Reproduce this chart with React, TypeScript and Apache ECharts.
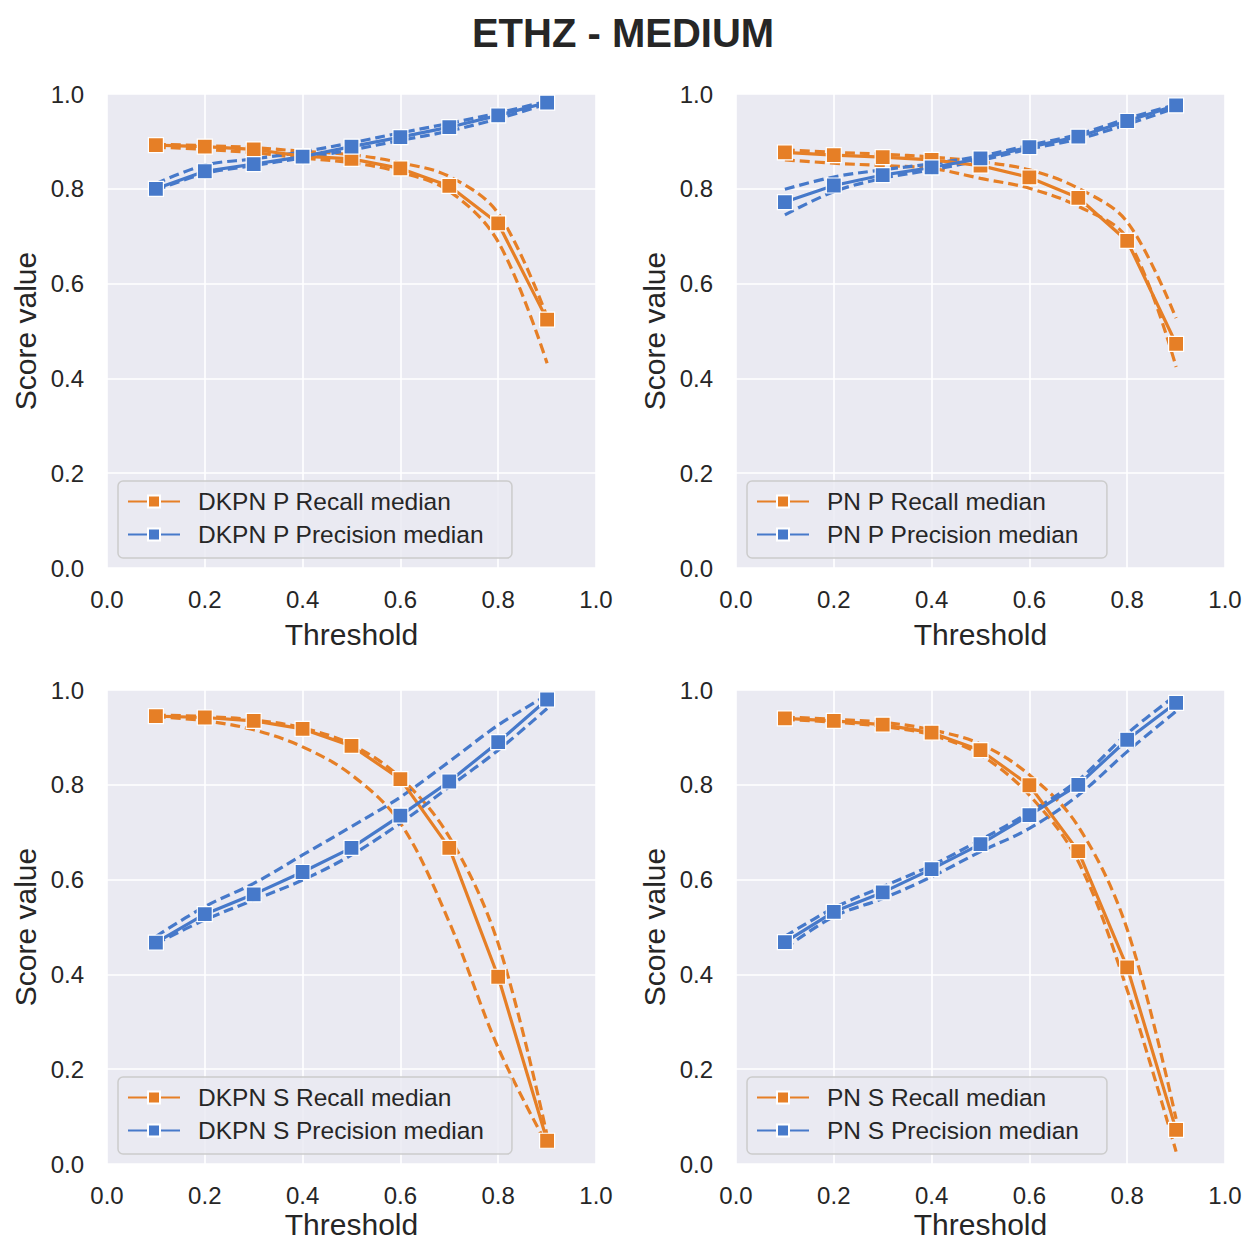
import React, { useEffect, useRef } from 'react';
import * as echarts from 'echarts';

const thresholds = [0.1, 0.2, 0.3, 0.4, 0.5, 0.6, 0.7, 0.8, 0.9];
const titleText = 'ETHZ - MEDIUM';
const panelNames = ['DKPN P', 'PN P', 'DKPN S', 'PN S'];

// DKPN P
const dkpnPRecallMedian = [0.892, 0.889, 0.883, 0.869, 0.863, 0.843, 0.806, 0.727, 0.524];
const dkpnPRecallUpper = [0.894, 0.891, 0.887, 0.879, 0.872, 0.855, 0.826, 0.748, 0.53];
const dkpnPRecallLower = [0.888, 0.883, 0.876, 0.865, 0.855, 0.835, 0.795, 0.688, 0.432];
const dkpnPPrecisionMedian = [0.8, 0.837, 0.852, 0.868, 0.889, 0.909, 0.93, 0.955, 0.982];
const dkpnPPrecisionUpper = [0.811, 0.85, 0.863, 0.878, 0.897, 0.918, 0.938, 0.96, 0.985];
const dkpnPPrecisionLower = [0.797, 0.832, 0.849, 0.865, 0.882, 0.902, 0.922, 0.948, 0.979];

// PN P
const pnPRecallMedian = [0.877, 0.871, 0.867, 0.861, 0.849, 0.824, 0.781, 0.69, 0.473];
const pnPRecallUpper = [0.882, 0.877, 0.873, 0.867, 0.857, 0.84, 0.801, 0.73, 0.527];
const pnPRecallLower = [0.861, 0.854, 0.849, 0.843, 0.822, 0.801, 0.763, 0.695, 0.424];
const pnPPrecisionMedian = [0.772, 0.807, 0.829, 0.845, 0.864, 0.888, 0.91, 0.943, 0.976];
const pnPPrecisionUpper = [0.799, 0.825, 0.84, 0.853, 0.869, 0.892, 0.915, 0.948, 0.978];
const pnPPrecisionLower = [0.745, 0.794, 0.822, 0.84, 0.86, 0.884, 0.905, 0.936, 0.971];

// DKPN S
const dkpnSRecallMedian = [0.945, 0.942, 0.935, 0.918, 0.882, 0.812, 0.667, 0.395, 0.049];
const dkpnSRecallUpper = [0.947, 0.944, 0.937, 0.92, 0.885, 0.815, 0.69, 0.465, 0.06];
const dkpnSRecallLower = [0.944, 0.935, 0.916, 0.88, 0.821, 0.719, 0.51, 0.245, 0.04];
const dkpnSPrecisionMedian = [0.467, 0.527, 0.569, 0.616, 0.667, 0.735, 0.807, 0.89, 0.98];
const dkpnSPrecisionUpper = [0.48, 0.543, 0.592, 0.652, 0.712, 0.774, 0.849, 0.926, 0.989];
const dkpnSPrecisionLower = [0.465, 0.515, 0.557, 0.599, 0.652, 0.719, 0.796, 0.873, 0.961];

// PN S
const pnSRecallMedian = [0.94, 0.935, 0.927, 0.91, 0.873, 0.799, 0.66, 0.415, 0.072];
const pnSRecallUpper = [0.943, 0.938, 0.932, 0.916, 0.886, 0.821, 0.712, 0.495, 0.095];
const pnSRecallLower = [0.938, 0.932, 0.923, 0.905, 0.863, 0.778, 0.638, 0.367, 0.026];
const pnSPrecisionMedian = [0.468, 0.532, 0.573, 0.622, 0.675, 0.736, 0.8, 0.895, 0.973];
const pnSPrecisionUpper = [0.48, 0.54, 0.585, 0.63, 0.684, 0.742, 0.81, 0.908, 0.989];
const pnSPrecisionLower = [0.455, 0.522, 0.56, 0.606, 0.659, 0.708, 0.778, 0.87, 0.955];

const panels = [
  { name: panelNames[0], rec: [dkpnPRecallMedian, dkpnPRecallUpper, dkpnPRecallLower], pre: [dkpnPPrecisionMedian, dkpnPPrecisionUpper, dkpnPPrecisionLower] },
  { name: panelNames[1], rec: [pnPRecallMedian, pnPRecallUpper, pnPRecallLower], pre: [pnPPrecisionMedian, pnPPrecisionUpper, pnPPrecisionLower] },
  { name: panelNames[2], rec: [dkpnSRecallMedian, dkpnSRecallUpper, dkpnSRecallLower], pre: [dkpnSPrecisionMedian, dkpnSPrecisionUpper, dkpnSPrecisionLower] },
  { name: panelNames[3], rec: [pnSRecallMedian, pnSRecallUpper, pnSRecallLower], pre: [pnSPrecisionMedian, pnSPrecisionUpper, pnSPrecisionLower] },
];

const ORANGE = '#e67f26';
const BLUE = '#4679ca';
const TEXT = '#262626';
const FONT = '"Liberation Sans", Arial, Helvetica, sans-serif';

const gridLefts = [107, 736];
const gridTops = [94, 690];
const nameGaps = [51, 45];
const GW = 489;
const GH = 474;

function pairs(vals: number[]) {
  return thresholds.map((t, i) => [t, vals[i]]);
}

export default function App() {
  const ref = useRef<HTMLDivElement>(null);
  useEffect(() => {
    if (!ref.current) return;
    const chart = echarts.init(ref.current, null, { renderer: 'svg' });
    const grids: any[] = [];
    const xAxes: any[] = [];
    const yAxes: any[] = [];
    const legends: any[] = [];
    const series: any[] = [];
    panels.forEach((p, i) => {
      const col = i % 2;
      const row = Math.floor(i / 2);
      const left = gridLefts[col];
      const top = gridTops[row];
      grids.push({
        left, top, width: GW, height: GH, show: true, backgroundColor: '#eaeaf2', borderWidth: 0,
        containLabel: false, outerBoundsMode: 'none',
      });
      xAxes.push({
        type: 'value', gridIndex: i, min: 0, max: 1, interval: 0.2,
        name: 'Threshold', nameLocation: 'middle', nameGap: nameGaps[row],
        nameTextStyle: { fontSize: 30, color: TEXT, fontFamily: FONT },
        axisLine: { show: false }, axisTick: { show: false },
        axisLabel: { fontSize: 24, color: TEXT, fontFamily: FONT, margin: 19, formatter: (v: number) => v.toFixed(1) },
        splitLine: { show: true, lineStyle: { color: '#ffffff', width: 1.6 } },
      });
      yAxes.push({
        type: 'value', gridIndex: i, min: 0, max: 1, interval: 0.2,
        name: 'Score value', nameLocation: 'middle', nameGap: 67,
        nameTextStyle: { fontSize: 30, color: TEXT, fontFamily: FONT },
        axisLine: { show: false }, axisTick: { show: false },
        axisLabel: { fontSize: 24, color: TEXT, fontFamily: FONT, margin: 23, formatter: (v: number) => v.toFixed(1) },
        splitLine: { show: true, lineStyle: { color: '#ffffff', width: 1.6 } },
      });
      const recName = p.name + ' Recall median';
      const preName = p.name + ' Precision median';
      legends.push({
        orient: 'vertical', left: left + 11, top: top + 387,
        data: [recName, preName],
        backgroundColor: 'rgba(234,234,242,0.85)', borderColor: '#cccccc', borderWidth: 1.5, borderRadius: 5,
        padding: [8, 28, 11, 9], itemGap: 8, itemWidth: 52, itemHeight: 15,
        textStyle: { fontSize: 24.5, color: TEXT, fontFamily: FONT, padding: [0, 0, 0, 13] },
        selectedMode: false,
      });
      const dash = (vals: number[], color: string, nm: string) => ({
        type: 'line', name: nm, xAxisIndex: i, yAxisIndex: i, data: pairs(vals),
        showSymbol: false, symbol: 'none', smooth: 0.35, z: 2,
        lineStyle: { color, width: 3.2, type: [10, 5] }, itemStyle: { color },
      });
      series.push(dash(p.rec[1], ORANGE, p.name + ' recall upper'));
      series.push(dash(p.rec[2], ORANGE, p.name + ' recall lower'));
      series.push(dash(p.pre[1], BLUE, p.name + ' precision upper'));
      series.push(dash(p.pre[2], BLUE, p.name + ' precision lower'));
      const med = (vals: number[], color: string, nm: string) => ({
        type: 'line', name: nm, xAxisIndex: i, yAxisIndex: i, data: pairs(vals),
        symbol: 'rect', symbolSize: 15, z: 3,
        lineStyle: { color, width: 3.2 },
        itemStyle: { color, borderColor: '#ffffff', borderWidth: 1.2 },
      });
      series.push(med(p.rec[0], ORANGE, recName));
      series.push(med(p.pre[0], BLUE, preName));
    });
    chart.setOption({
      animation: false,
      backgroundColor: '#ffffff',
      title: {
        text: titleText, left: 'center', top: 8,
        textStyle: { fontSize: 40, fontWeight: 'bold', color: TEXT, fontFamily: FONT },
      },
      grid: grids,
      xAxis: xAxes,
      yAxis: yAxes,
      legend: legends,
      series,
    });
    return () => chart.dispose();
  }, []);
  return <div ref={ref} style={{ position: 'fixed', left: 0, top: 0, width: 1246, height: 1243 }} />;
}
